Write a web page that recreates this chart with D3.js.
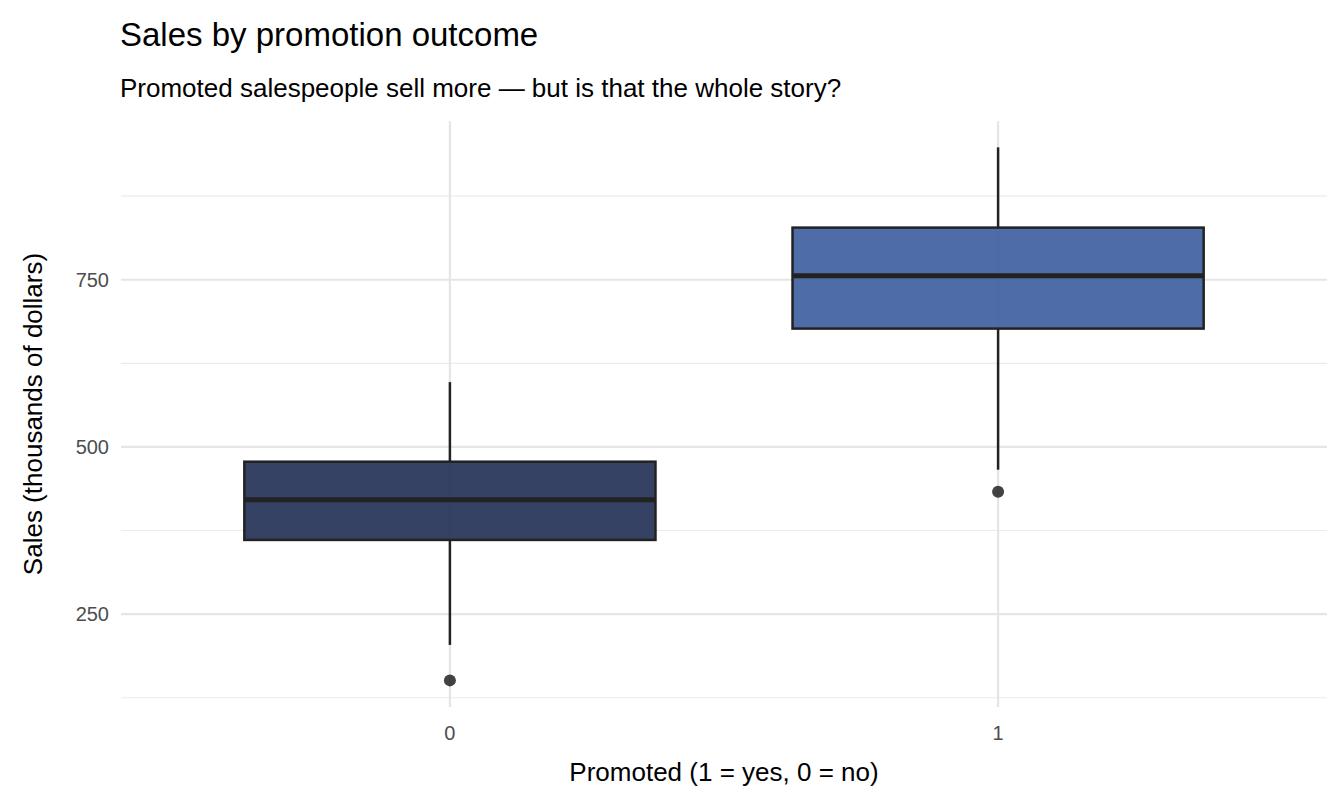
<!DOCTYPE html>
<html><head><meta charset="utf-8">
<script src="https://cdn.jsdelivr.net/npm/d3@7"></script>
<style>body{margin:0;background:#fff}text{font-family:"Liberation Sans",Arial,sans-serif}</style>
</head><body><div id="chart"></div>
<script>
var groups = ['0','1'];
var lowWhisker = [204, 466];
var q1 = [361, 677];
var median = [421, 756];
var q3 = [478, 828];
var highWhisker = [597, 948];
var outliers = [[151], [433]];
var fills = ['#1f2d52', '#3a5c9e'];

var W = 1344, H = 806;
var margin = {t:121, r:17, b:99, l:121};
var svg = d3.select('#chart').append('svg').attr('width',W).attr('height',H);

var y = d3.scaleLinear().domain([111.2, 987.4]).range([H-margin.b, margin.t]);
var x = d3.scalePoint().domain(groups).range([margin.l, W-margin.r]).padding(0.6);
var bw = 0.75*x.step();

var g = svg.append('g');
// grid
[125,375,625,875].forEach(function(v){
  g.append('line').attr('x1',margin.l).attr('x2',W-margin.r).attr('y1',y(v)).attr('y2',y(v))
   .attr('stroke','#ebebeb').attr('stroke-width',1.1);
});
[250,500,750].forEach(function(v){
  g.append('line').attr('x1',margin.l).attr('x2',W-margin.r).attr('y1',y(v)).attr('y2',y(v))
   .attr('stroke','#e5e5e5').attr('stroke-width',2.2);
});
groups.forEach(function(c){
  g.append('line').attr('x1',x(c)).attr('x2',x(c)).attr('y1',margin.t).attr('y2',H-margin.b)
   .attr('stroke','#e5e5e5').attr('stroke-width',2.2);
});

// y ticks
[250,500,750].forEach(function(v){
  svg.append('text').attr('x',margin.l-12).attr('y',y(v)).attr('dy','0.35em').attr('text-anchor','end')
   .attr('font-size',20).attr('fill','#4d4d4d').text(v);
});
groups.forEach(function(c){
  svg.append('text').attr('x',x(c)).attr('y',H-margin.b+33).attr('text-anchor','middle')
   .attr('font-size',20).attr('fill','#4d4d4d').text(c);
});

// boxes
groups.forEach(function(c,i){
  var cx = x(c);
  g.append('line').attr('x1',cx).attr('x2',cx).attr('y1',y(highWhisker[i])).attr('y2',y(q3[i]))
   .attr('stroke','#222').attr('stroke-width',2.5);
  g.append('line').attr('x1',cx).attr('x2',cx).attr('y1',y(q1[i])).attr('y2',y(lowWhisker[i]))
   .attr('stroke','#222').attr('stroke-width',2.5);
  g.append('rect').attr('x',cx-bw/2).attr('width',bw).attr('y',y(q3[i])).attr('height',y(q1[i])-y(q3[i]))
   .attr('fill',fills[i]).attr('fill-opacity',0.9).attr('stroke','#222').attr('stroke-width',2.5);
  g.append('line').attr('x1',cx-bw/2).attr('x2',cx+bw/2).attr('y1',y(median[i])).attr('y2',y(median[i]))
   .attr('stroke','#222').attr('stroke-width',5);
  outliers[i].forEach(function(o){
    g.append('circle').attr('cx',cx).attr('cy',y(o)).attr('r',6).attr('fill','#222').attr('fill-opacity',0.85);
  });
});

// titles
svg.append('text').attr('x',120).attr('y',46).attr('font-size',33).attr('fill','#000').text('Sales by promotion outcome');
svg.append('text').attr('x',120).attr('y',97).attr('font-size',26).attr('fill','#000').text('Promoted salespeople sell more — but is that the whole story?');
svg.append('text').attr('x',(margin.l+W-margin.r)/2).attr('y',781).attr('text-anchor','middle')
  .attr('font-size',26).text('Promoted (1 = yes, 0 = no)');
svg.append('text').attr('transform','translate(42,'+((margin.t+H-margin.b)/2)+') rotate(-90)')
  .attr('text-anchor','middle').attr('font-size',26).text('Sales (thousands of dollars)');
</script></body></html>
